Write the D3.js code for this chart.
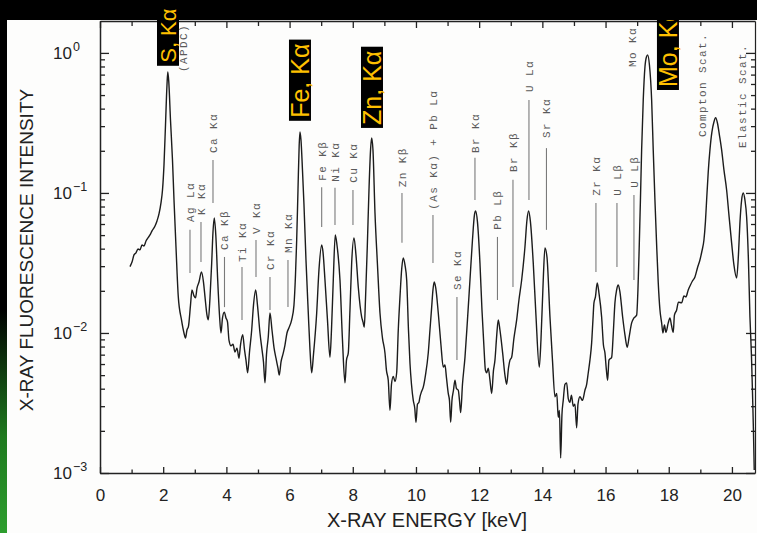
<!DOCTYPE html>
<html>
<head>
<meta charset="utf-8">
<script src="https://cdn.jsdelivr.net/npm/d3@7"></script>
<style>
  html, body { margin: 0; padding: 0; background: #000; }
  svg { display: block; }
</style>
</head>
<body>
<div id="chart"></div>
<script>
// ============================================================
//  XRF spectrum · log intensity vs energy (scanned figure)
// ============================================================

// ── spectrum (keV, relative intensity) ──────────────────────
const energy = [
  0.949, 1.013, 1.076, 1.139, 1.203, 1.266, 1.329, 1.392, 1.456, 1.519, 1.582, 1.646, 1.741, 1.804, 1.867, 1.930,
  1.978, 2.025, 2.073, 2.120, 2.146, 2.177, 2.231, 2.294, 2.342, 2.405, 2.478, 2.579, 2.658, 2.706, 2.753, 2.801,
  2.864, 2.911, 2.975, 3.022, 3.070, 3.133, 3.212, 3.275, 3.323, 3.386, 3.427, 3.481, 3.535, 3.576, 3.617, 3.665,
  3.725, 3.782, 3.829, 3.877, 3.934, 3.987, 4.035, 4.082, 4.146, 4.209, 4.272, 4.335, 4.399, 4.446, 4.516, 4.573,
  4.620, 4.674, 4.731, 4.801, 4.858, 4.927, 4.984, 5.063, 5.127, 5.174, 5.222, 5.269, 5.326, 5.380, 5.443, 5.506,
  5.570, 5.633, 5.674, 5.728, 5.801, 5.854, 5.918, 5.981, 6.066, 6.139, 6.187, 6.225, 6.266, 6.304, 6.329, 6.361,
  6.408, 6.456, 6.519, 6.592, 6.646, 6.699, 6.756, 6.858, 6.930, 7.016, 7.057, 7.120, 7.199, 7.278, 7.326, 7.383,
  7.446, 7.500, 7.595, 7.674, 7.753, 7.801, 7.858, 7.911, 7.965, 8.038, 8.101, 8.174, 8.282, 8.323, 8.364, 8.402,
  8.459, 8.513, 8.566, 8.598, 8.639, 8.703, 8.782, 8.861, 8.940, 9.019, 9.066, 9.123, 9.177, 9.225, 9.282, 9.335,
  9.389, 9.440, 9.494, 9.551, 9.598, 9.652, 9.706, 9.763, 9.810, 9.858, 9.915, 9.962, 10.000, 10.047, 10.095, 10.127,
  10.174, 10.231, 10.301, 10.389, 10.443, 10.497, 10.538, 10.579, 10.627, 10.706, 10.791, 10.864, 10.918, 10.965, 11.022, 11.060,
  11.098, 11.139, 11.187, 11.234, 11.282, 11.339, 11.377, 11.415, 11.472, 11.551, 11.630, 11.709, 11.788, 11.851, 11.889, 11.946,
  12.025, 12.089, 12.152, 12.199, 12.237, 12.288, 12.342, 12.396, 12.453, 12.500, 12.557, 12.604, 12.658, 12.743, 12.816, 12.870,
  12.927, 12.975, 13.028, 13.101, 13.187, 13.259, 13.345, 13.449, 13.513, 13.566, 13.623, 13.712, 13.797, 13.902, 13.956, 14.028,
  14.082, 14.146, 14.241, 14.320, 14.399, 14.456, 14.503, 14.541, 14.579, 14.620, 14.661, 14.715, 14.769, 14.820, 14.873, 14.921,
  14.978, 15.032, 15.085, 15.127, 15.190, 15.269, 15.348, 15.402, 15.453, 15.506, 15.560, 15.601, 15.633, 15.680, 15.737, 15.791,
  15.876, 15.933, 15.981, 16.028, 16.066, 16.108, 16.193, 16.250, 16.297, 16.351, 16.402, 16.456, 16.541, 16.614, 16.687, 16.741,
  16.826, 16.899, 16.984, 17.025, 17.063, 17.104, 17.142, 17.193, 17.247, 17.294, 17.332, 17.389, 17.459, 17.509, 17.563, 17.617,
  17.668, 17.722, 17.775, 17.816, 17.864, 17.911, 17.984, 18.038, 18.085, 18.142, 18.180, 18.250, 18.307, 18.408, 18.481, 18.544,
  18.617, 18.687, 18.750, 18.829, 18.908, 18.987, 19.051, 19.114, 19.161, 19.199, 19.250, 19.304, 19.367, 19.430, 19.484, 19.541,
  19.604, 19.674, 19.747, 19.832, 19.905, 19.990, 20.063, 20.149, 20.206, 20.253, 20.307, 20.358, 20.411, 20.465, 20.522, 20.570,
  20.617, 20.649, 20.681, 20.706
];
const intensity = [
  0.0298, 0.0321, 0.0361, 0.0373, 0.0398, 0.0392, 0.0425, 0.0418, 0.0454, 0.0478, 0.0501, 0.0536, 0.0581, 0.0631, 0.0708, 0.0849,
  0.105, 0.158, 0.306, 0.590, 0.731, 0.621, 0.332, 0.172, 0.0891, 0.0411, 0.0181, 0.0124, 0.0100, 0.0092, 0.0105, 0.0112,
  0.0158, 0.0203, 0.0184, 0.0178, 0.0209, 0.0231, 0.0273, 0.0231, 0.0181, 0.0134, 0.0124, 0.0178, 0.0316, 0.0526, 0.0662, 0.0501,
  0.0239, 0.0134, 0.0100, 0.0128, 0.0141, 0.0128, 0.0120, 0.0089, 0.0081, 0.0083, 0.0073, 0.0078, 0.0066, 0.0082, 0.0097, 0.0076,
  0.0064, 0.0052, 0.0073, 0.0105, 0.0158, 0.0203, 0.0158, 0.0100, 0.0076, 0.0062, 0.0044, 0.0070, 0.0094, 0.0139, 0.0105, 0.0079,
  0.0066, 0.0056, 0.0050, 0.0062, 0.0072, 0.0082, 0.0100, 0.0109, 0.0124, 0.0158, 0.0259, 0.0461, 0.105, 0.220, 0.273, 0.239,
  0.146, 0.0820, 0.0332, 0.0139, 0.0076, 0.0052, 0.0070, 0.0139, 0.0282, 0.0425, 0.0379, 0.0239, 0.0124, 0.0067, 0.0105, 0.0239,
  0.0501, 0.0425, 0.0239, 0.0089, 0.0044, 0.0064, 0.0072, 0.0146, 0.0316, 0.0478, 0.0361, 0.0213, 0.0130, 0.0120, 0.0110, 0.0172,
  0.0411, 0.105, 0.209, 0.247, 0.203, 0.0720, 0.0306, 0.0139, 0.0092, 0.0072, 0.0054, 0.0046, 0.0028, 0.0043, 0.0049, 0.0045,
  0.0052, 0.0105, 0.0181, 0.0291, 0.0344, 0.0306, 0.0239, 0.0105, 0.0061, 0.0043, 0.0033, 0.0029, 0.0023, 0.0031, 0.0032, 0.0035,
  0.0038, 0.0041, 0.0050, 0.0072, 0.0105, 0.0153, 0.0203, 0.0231, 0.0209, 0.0139, 0.0082, 0.0057, 0.0059, 0.0048, 0.0037, 0.0033,
  0.0023, 0.0033, 0.0039, 0.0046, 0.0040, 0.0039, 0.0033, 0.0027, 0.0043, 0.0067, 0.0124, 0.0239, 0.0461, 0.0697, 0.0743, 0.0621,
  0.0316, 0.0146, 0.0079, 0.0054, 0.0052, 0.0056, 0.0046, 0.0037, 0.0054, 0.0064, 0.0097, 0.0124, 0.0105, 0.0072, 0.0050, 0.0043,
  0.0056, 0.0064, 0.0067, 0.0092, 0.0124, 0.0172, 0.0239, 0.0411, 0.0641, 0.0743, 0.0621, 0.0316, 0.0134, 0.0057, 0.0089, 0.0239,
  0.0405, 0.0349, 0.0130, 0.0064, 0.0035, 0.0037, 0.0025, 0.0028, 0.00128, 0.0026, 0.0033, 0.0043, 0.0044, 0.0034, 0.0032, 0.0036,
  0.0030, 0.0031, 0.0021, 0.0031, 0.0035, 0.0033, 0.0039, 0.0043, 0.0052, 0.0064, 0.0085, 0.0124, 0.0164, 0.0181, 0.0228, 0.0193,
  0.0130, 0.0082, 0.0072, 0.0054, 0.0046, 0.0064, 0.0067, 0.0105, 0.0164, 0.0203, 0.0220, 0.0196, 0.0130, 0.0097, 0.0079, 0.0092,
  0.0118, 0.0128, 0.0134, 0.0203, 0.0392, 0.0891, 0.203, 0.461, 0.794, 0.936, 0.968, 0.820, 0.461, 0.203, 0.0891, 0.0425,
  0.0228, 0.0146, 0.0118, 0.0100, 0.0114, 0.0101, 0.0118, 0.0128, 0.0114, 0.0101, 0.0134, 0.0146, 0.0166, 0.0164, 0.0184, 0.0181,
  0.0203, 0.0220, 0.0235, 0.0251, 0.0291, 0.0332, 0.0385, 0.0461, 0.0621, 0.0891, 0.141, 0.203, 0.273, 0.321, 0.344, 0.316,
  0.259, 0.203, 0.146, 0.105, 0.0697, 0.0440, 0.0306, 0.0247, 0.0361, 0.0611, 0.0891, 0.100, 0.0891, 0.0674, 0.0332, 0.0130,
  0.0070, 0.0039, 0.0020, 0.00105
];

// ── line annotations (name, keV, text base, leader top, leader bottom) ──
const lineNames  = ["Ag Lα", "K Kα", "Ca Kα", "Ca Kβ", "Ti Kα", "V Kα", "Cr Kα", "Mn Kα", "Fe Kβ", "Ni Kα", "Cu Kα",
                    "Zn Kβ", "(As Kα) + Pb Lα", "Se Kα", "Br Kα", "Pb Lβ", "Br Kβ", "U Lα", "Sr Kα", "Zr Kα", "U Lβ", "U Lβ",
                    "(APDC)", "Mo Kα", "Compton Scat.", "Elastic Scat."];
const lineEnergy = [2.848, 3.196, 3.576, 3.940, 4.494, 4.937, 5.380, 5.949, 7.016, 7.437, 8.006,
                    9.557, 10.538, 11.297, 11.867, 12.579, 13.070, 13.576, 14.130, 15.696, 16.361, 16.899,
                    2.642, 16.835, 19.051, 20.332];
const lineBase   = [0.0621, 0.0697, 0.193, 0.0392, 0.0321, 0.0509, 0.0282, 0.0373, 0.122, 0.120, 0.118,
                    0.110, 0.0757, 0.0203, 0.193, 0.0545, 0.141, 0.526, 0.247, 0.0953, 0.0953, 0.109,
                    0.731, 0.794, 0.251, 0.209];
const lineTop    = [0.0545, 0.0621, 0.172, 0.0349, 0.0296, 0.0461, 0.0251, 0.0332, 0.110, 0.109, 0.105,
                    0.100, 0.0697, 0.0181, 0.178, 0.0485, 0.124, 0.461, 0.209, 0.0849, 0.0849, 0.0968,
                    null, null, null, null];
const lineBottom = [0.0268, 0.0321, 0.0849, 0.0153, 0.0124, 0.0251, 0.0146, 0.0153, 0.0572, 0.0590, 0.0590,
                    0.0440, 0.0316, 0.0064, 0.0891, 0.0172, 0.0213, 0.0891, 0.0545, 0.0273, 0.0296, 0.0239,
                    null, null, null, null];

// ── highlighted peaks ───────────────────────────────────────
const mainNames  = ["S, Kα", "Fe, Kα", "Zn, Kα", "Mo, Kα"];
const mainEnergy = [2.152, 6.329, 8.608, 17.975];
const mainBase   = [0.85, 0.344, 0.306, 0.571];

// ── ticks ───────────────────────────────────────────────────
const xMajorTicks = [0, 2, 4, 6, 8, 10, 12, 14, 16, 18, 20];
const xMinorTicks = [1, 3, 5, 7, 9, 11, 13, 15, 17, 19];
const yDecades    = [-3, -2, -1, 0];

// ── canvas ──────────────────────────────────────────────────
const W = 757, H = 533;
const svg = d3.select("#chart").append("svg").attr("width", W).attr("height", H);
svg.append("rect").attr("width", W).attr("height", H).attr("fill", "#fdfdfc");

const x = d3.scaleLinear().domain([0, 20.73]).range([100, 755]);
const y = d3.scaleLog().domain([1e-3, 1.69]).range([473, 21]);

const yMajor = yDecades.map(d => Math.pow(10, d));
const yMinor = [];
yDecades.forEach(d => { for (let m = 2; m <= 9; m++) { const v = m * Math.pow(10, d); if (v < 1.69) yMinor.push(v); } });

// ── axes ────────────────────────────────────────────────────
const axisCol = "#222";
function styleAxis(sel) {
  sel.select(".domain").attr("stroke", axisCol).attr("stroke-width", 1.5);
  sel.selectAll(".tick line").attr("stroke", axisCol).attr("stroke-width", 1.3);
}

svg.append("g").attr("transform", "translate(0,473)")
  .call(d3.axisBottom(x).tickValues(xMajorTicks).tickSizeInner(-6).tickSizeOuter(0).tickPadding(16))
  .call(styleAxis)
  .call(g => g.selectAll("text").attr("font-family", "'Liberation Sans', Arial, sans-serif")
    .attr("font-size", 17).attr("fill", axisCol));
svg.append("g").attr("transform", "translate(0,473)")
  .call(d3.axisBottom(x).tickValues(xMinorTicks).tickSize(-3.5).tickFormat(""))
  .call(styleAxis).call(g => g.select(".domain").remove());

svg.append("g").attr("transform", "translate(0,21)")
  .call(d3.axisTop(x).tickValues(xMajorTicks).tickSizeInner(-7).tickSizeOuter(0).tickFormat(""))
  .call(styleAxis);
svg.append("g").attr("transform", "translate(0,21)")
  .call(d3.axisTop(x).tickValues(xMinorTicks).tickSize(-5).tickFormat(""))
  .call(styleAxis).call(g => g.select(".domain").remove());

svg.append("g").attr("transform", "translate(100,0)")
  .call(d3.axisLeft(y).tickValues(yMajor).tickSizeInner(-9).tickSizeOuter(0).tickFormat(""))
  .call(styleAxis);
svg.append("g").attr("transform", "translate(100,0)")
  .call(d3.axisLeft(y).tickValues(yMinor).tickSize(-5).tickFormat(""))
  .call(styleAxis).call(g => g.select(".domain").remove());

svg.append("g").attr("transform", "translate(755,0)")
  .call(d3.axisRight(y).tickValues(yMajor).tickSizeInner(-9).tickSizeOuter(0).tickFormat(""))
  .call(styleAxis)
  .call(g => g.select(".domain").attr("stroke-width", 1.2));
svg.append("g").attr("transform", "translate(755,0)")
  .call(d3.axisRight(y).tickValues(yMinor).tickSize(-4).tickFormat(""))
  .call(styleAxis).call(g => g.select(".domain").remove());

// 10^n labels
const yLab = svg.append("g").attr("font-family", "'Liberation Sans', Arial, sans-serif").attr("fill", axisCol);
yDecades.forEach(d => {
  const t = yLab.append("text").attr("x", 53).attr("y", y(Math.pow(10, d)) + 6).attr("font-size", 17);
  t.append("tspan").text("10");
  t.append("tspan").attr("font-size", 12.5).attr("dy", -8).attr("dx", 1).text(d === 0 ? "0" : "−" + (-d));
});

// titles
svg.append("text").attr("x", 427).attr("y", 527).attr("text-anchor", "middle")
  .attr("font-family", "'Liberation Sans', Arial, sans-serif").attr("font-size", 20).attr("fill", axisCol)
  .text("X-RAY ENERGY [keV]");
svg.append("text").attr("transform", "translate(33,250) rotate(-90)").attr("text-anchor", "middle")
  .attr("font-family", "'Liberation Sans', Arial, sans-serif").attr("font-size", 19).attr("fill", axisCol)
  .text("X-RAY FLUORESCENCE INTENSITY");

// ── spectrum ────────────────────────────────────────────────
const line = d3.line().x((d, i) => x(energy[i])).y(d => y(d)).curve(d3.curveMonotoneX);
svg.append("path").datum(intensity).attr("d", line)
  .attr("fill", "none").attr("stroke", "#1c1c1c").attr("stroke-width", 1.4).attr("stroke-linejoin", "round");

// ── leader lines + labels ───────────────────────────────────
const ann = svg.append("g");
lineNames.forEach((name, i) => {
  const cx = x(lineEnergy[i]);
  if (lineTop[i] != null) {
    ann.append("line").attr("x1", cx).attr("x2", cx).attr("y1", y(lineTop[i])).attr("y2", y(lineBottom[i]))
      .attr("stroke", "#7a7a7a").attr("stroke-width", 1.1);
  }
  ann.append("text").attr("transform", `translate(${cx + 4},${y(lineBase[i])}) rotate(-90)`)
    .attr("font-family", "'Liberation Mono', 'DejaVu Sans Mono', monospace").attr("font-size", 11)
    .attr("letter-spacing", 1.4).attr("fill", "#5a5a5a").text(name);
});

// ── yellow highlight labels ─────────────────────────────────
function mainLabel(i, fs) {
  const cx = x(mainEnergy[i]), by = y(mainBase[i]);
  const g = svg.append("g");
  const box = g.append("rect").attr("fill", "#000");
  const t = g.append("text").attr("transform", `translate(${cx + 0.36 * fs},${by}) rotate(-90)`)
    .attr("font-family", "'Liberation Sans', Arial, sans-serif").attr("font-size", fs)
    .attr("fill", "#ffc000").text(mainNames[i]);
  const len = t.node().getComputedTextLength();
  const top = Math.max(0, by - len - 4);
  box.attr("x", cx - 11).attr("width", 22).attr("y", top).attr("height", by + 3 - top);
}

mainLabel(3, 25);

// ── scan border (black band, green edge) ────────────────────
const defs = svg.append("defs");
const grad = defs.append("linearGradient").attr("id", "edge").attr("x1", 0).attr("x2", 0).attr("y1", 0).attr("y2", 1);
grad.append("stop").attr("offset", "0%").attr("stop-color", "#000");
grad.append("stop").attr("offset", "58%").attr("stop-color", "#000");
grad.append("stop").attr("offset", "82%").attr("stop-color", "#1f7a1f");
grad.append("stop").attr("offset", "100%").attr("stop-color", "#2e9e2e");
svg.append("rect").attr("x", 0).attr("y", 0).attr("width", 7).attr("height", H).attr("fill", "url(#edge)");
svg.append("rect").attr("x", 0).attr("y", 0).attr("width", W).attr("height", 20).attr("fill", "#000");

// S label is smaller so it stays on the page
mainLabel(0, 22);
mainLabel(1, 25);
mainLabel(2, 25);
</script>
</body>
</html>
